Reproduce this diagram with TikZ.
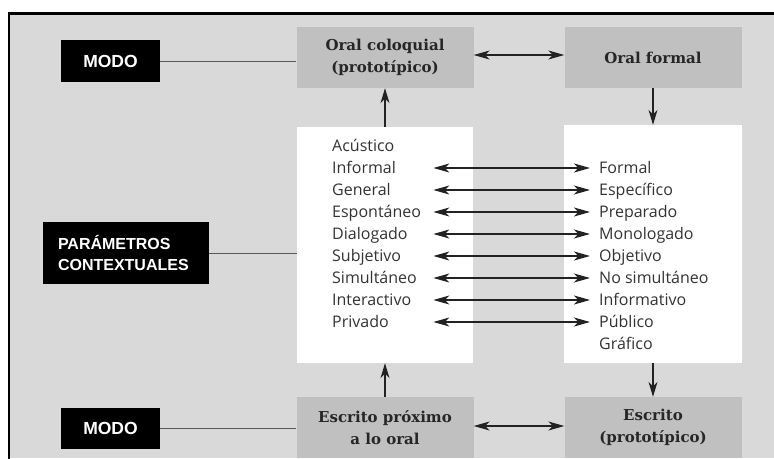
\documentclass[tikz,border=0pt]{standalone}
\usepackage{fontspec}
\newfontfamily\listfont{Open Sans}
\newfontfamily\boxsans{Liberation Sans}
\newfontfamily\labelfont{DejaVu Serif}
\usetikzlibrary{arrows.meta}
\definecolor{bggray}{HTML}{D9D9D9}
\definecolor{boxgray}{HTML}{C0C0C0}
\definecolor{linegray}{HTML}{222222}
\tikzset{
  modebox/.style={fill=boxgray, minimum width=177pt, minimum height=61pt, inner sep=0pt, align=center,
    font=\labelfont\bfseries\fontsize{15}{22}\selectfont, text=black!85},
  blackbox/.style={fill=black, text=white, inner sep=0pt, font=\boxsans\bfseries\fontsize{16}{21}\selectfont},
  modotext/.style={font=\boxsans\bfseries\fontsize{17.5}{21}\selectfont},
  whitebox/.style={fill=white, inner sep=0pt},
  item/.style={anchor=west, inner sep=0pt, text height=11pt, text depth=0pt, font=\listfont\fontsize{16}{18}\selectfont, text=black!80},
  litem/.style={item, text width=101pt, align=left},
  conn/.style={draw=linegray, line width=1.1pt},
  dbl/.style={conn, {Stealth[length=16pt,width=9pt,inset=4.5pt]}-{Stealth[length=16pt,width=9pt,inset=4.5pt]}},
  arr/.style={conn, -{Stealth[length=15pt,width=9pt,inset=4.5pt]}}
}
\begin{document}
\begin{tikzpicture}[x=1pt,y=-1pt]
\useasboundingbox (0,0) rectangle (774,458);
\fill[white] (0,0) rectangle (774,458);
\fill[bggray] (9,13.5) rectangle (774,458);
\draw[black, line width=2.5pt] (9,470) -- (9,13.5) -- (780,13.5);

% top row
\node[blackbox, modotext, minimum width=99pt, minimum height=42pt] (modo1) at (110.5,61) {MODO};
\node[modebox] (oc) at (385,57.5) {Oral coloquial\\(prototípico)};
\node[modebox] (of) at (653,57.5) {Oral formal};

% white boxes
\node[whitebox, minimum width=176pt, minimum height=236pt] (wl) at (385,245) {};
\node[whitebox, minimum width=178pt, minimum height=238pt] (wr) at (653,244) {};

% parameters
\node[blackbox, minimum width=166pt, minimum height=62pt, text width=136pt, align=left] (param) at (126,253) {PARÁMETROS\\CONTEXTUALES};

% bottom row
\node[modebox] (ep) at (385,427.5) {Escrito próximo\\a lo oral};
\node[modebox] (es) at (653,427.5) {Escrito\\(prototípico)};
\node[blackbox, modotext, minimum width=99pt, minimum height=41pt] (modo2) at (110.5,428.5) {MODO};

% list items
\node[litem] (l0) at (332,146) {Acústico};
\node[litem] (l1) at (332,168) {Informal};
\node[litem] (l2) at (332,190) {General};
\node[litem] (l3) at (332,212) {Espontáneo};
\node[litem] (l4) at (332,234) {Dialogado};
\node[litem] (l5) at (332,256) {Subjetivo};
\node[litem] (l6) at (332,278) {Simultáneo};
\node[litem] (l7) at (332,300) {Interactivo};
\node[litem] (l8) at (332,322) {Privado};

\node[item] (r1) at (599,168) {Formal};
\node[item] (r2) at (599,190) {Específico};
\node[item] (r3) at (599,212) {Preparado};
\node[item] (r4) at (599,234) {Monologado};
\node[item] (r5) at (599,256) {Objetivo};
\node[item] (r6) at (599,278) {No simultáneo};
\node[item] (r7) at (599,300) {Informativo};
\node[item] (r8) at (599,322) {Público};
\node[item] (r9) at (599,344) {Gráfico};

\foreach \i in {1,...,8} {
  \draw[dbl] (l\i.east) -- ([xshift=-9pt]r\i.west);
}

% connectors
\draw[conn, draw=black!65, line width=0.9pt] (modo1.east) -- (modo1.east -| oc.west);
\draw[dbl] ([yshift=2.5pt]oc.east) -- ([yshift=2.5pt]of.west);
\draw[arr] (wl.north) -- (oc.south);
\draw[arr] (of.south) -- (wr.north);
\draw[conn, draw=black!65, line width=0.9pt] (param.east) -- (param.east -| wl.west);
\draw[arr] (ep.north) -- (wl.south);
\draw[arr] (wr.south) -- (es.north);
\draw[conn, draw=black!65, line width=0.9pt] (modo2.east) -- (modo2.east -| ep.west);
\draw[dbl] ([yshift=1.5pt]ep.east) -- ([yshift=1.5pt]es.west);
\end{tikzpicture}
\end{document}
